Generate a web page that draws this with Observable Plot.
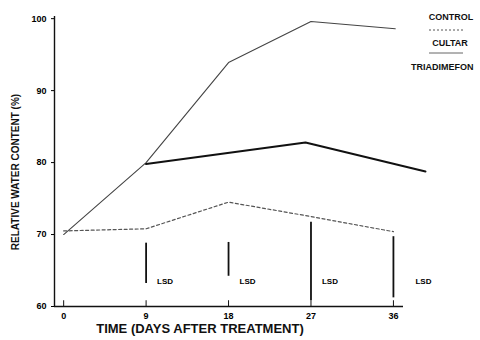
<!DOCTYPE html>
<html><head><meta charset="utf-8">
<script src="https://cdn.jsdelivr.net/npm/d3@7"></script>
<script src="https://cdn.jsdelivr.net/npm/@observablehq/plot@0.6"></script>
<style>
body{margin:0;background:#fff;}
svg{font-family:"Liberation Sans",Arial,sans-serif;}
</style>
</head><body><div id="chart"></div>
<script>
const xTicks = [0, 9, 18, 27, 36];
const yTicks = [60, 70, 80, 90, 100];
const controlDays = [0, 9, 18, 27, 36];
const controlValues = [70.5, 70.8, 74.5, 72.5, 70.4];
const cultarDays = [0, 9, 18, 27, 36.2];
const cultarValues = [70, 80, 93.9, 99.6, 98.6];
const triadDays = [9, 26.4, 39.5];
const triadValues = [79.8, 82.8, 78.75];
const lsdDays = [9, 18, 27, 36];
const lsdLow = [63.2, 64.2, 60.8, 61.2];
const lsdHigh = [68.8, 68.9, 71.7, 69.7];
const lsdLabel = "LSD";
const legendNames = ["CONTROL", "CULTAR", "TRIADIMEFON"];

const ctrl = controlDays.map((d, i) => ({day: d, v: controlValues[i]}));
const cult = cultarDays.map((d, i) => ({day: d, v: cultarValues[i]}));
const tria = triadDays.map((d, i) => ({day: d, v: triadValues[i]}));
const lsd = lsdDays.map((d, i) => ({day: d, lo: lsdLow[i], hi: lsdHigh[i]}));

const chart = Plot.plot({
  width: 480, height: 340,
  marginLeft: 54, marginRight: 77, marginTop: 16, marginBottom: 34,
  x: {domain: [-1, 37.1]},
  y: {domain: [60, 100.3]},
  style: {fontFamily: "Liberation Sans, Arial, sans-serif", background: "#fff"},
  marks: [
    Plot.ruleX([-1], {y1: 60, y2: 100.3, stroke: "#111", strokeWidth: 1.4}),
    Plot.ruleY([60], {x1: -1, x2: 37.1, stroke: "#111", strokeWidth: 1.4}),
    Plot.ruleX(xTicks, {x: d => d, y1: 60, y2: 60.8, stroke: "#111"}),
    Plot.axisY({ticks: yTicks, tickSize: 3, tickPadding: 5, label: null, fontSize: 9, fontWeight: "bold", tickFormat: d => d}),
    Plot.axisX({ticks: xTicks, tickSize: 0, tickPadding: 6, label: null, fontSize: 9, fontWeight: "bold"}),
    Plot.line(ctrl, {x: "day", y: "v", stroke: "#555", strokeWidth: 1.2, strokeDasharray: "3,2.5"}),
    Plot.line(cult, {x: "day", y: "v", stroke: "#444", strokeWidth: 1.1}),
    Plot.line(tria, {x: "day", y: "v", stroke: "#111", strokeWidth: 2}),
    Plot.ruleX(lsd, {x: "day", y1: "lo", y2: "hi", stroke: "#111", strokeWidth: 1.8}),
    Plot.text(lsd.slice(0, 3), {x: "day", y: 63.5, text: () => lsdLabel, dx: 11, textAnchor: "start", fontSize: 8, fontWeight: "bold"}),
    Plot.text(lsd.slice(3), {x: "day", y: 63.5, text: () => lsdLabel, dx: 22, textAnchor: "start", fontSize: 8, fontWeight: "bold"})
  ]
});

const svg = d3.select(chart);
svg.append("text").attr("x", 200).attr("y", 333).attr("text-anchor", "middle")
  .attr("font-size", 13).attr("font-weight", "bold").attr("fill", "#111")
  .text("TIME (DAYS AFTER TREATMENT)");
svg.append("text").attr("transform", "translate(19,172) rotate(-90)").attr("text-anchor", "middle")
  .attr("font-size", 10).attr("font-weight", "bold").attr("fill", "#111")
  .text("RELATIVE WATER CONTENT (%)");
const lg = svg.append("g").attr("font-size", 9).attr("font-weight", "bold").attr("fill", "#111");
lg.append("text").attr("x", 451).attr("y", 20).attr("text-anchor", "middle").text(legendNames[0]);
lg.append("line").attr("x1", 429).attr("x2", 464).attr("y1", 30).attr("y2", 30)
  .attr("stroke", "#555").attr("stroke-dasharray", "2,2");
lg.append("text").attr("x", 450).attr("y", 46).attr("text-anchor", "middle").text(legendNames[1]);
lg.append("line").attr("x1", 429).attr("x2", 463).attr("y1", 53).attr("y2", 53)
  .attr("stroke", "#666").attr("stroke-width", 1);
lg.append("text").attr("x", 411).attr("y", 70).attr("text-anchor", "start").text(legendNames[2]);

document.getElementById("chart").appendChild(chart);
</script>
</body></html>
